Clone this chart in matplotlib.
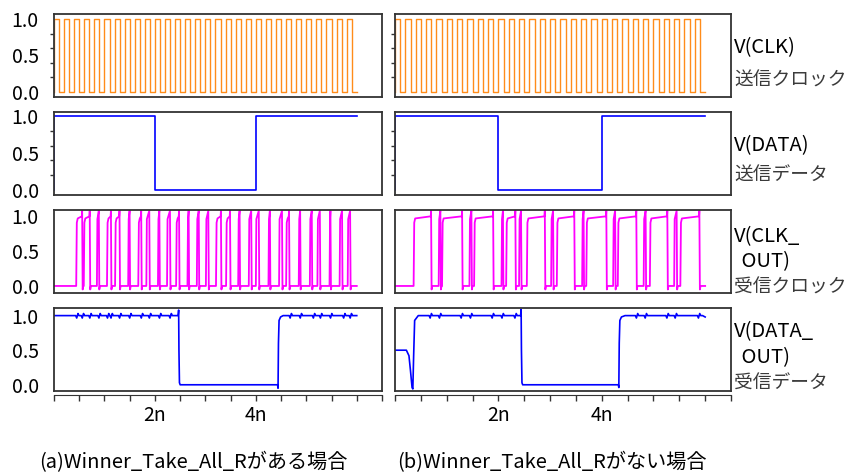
import matplotlib
matplotlib.use("Agg")
import matplotlib.pyplot as plt

plt.rcParams['font.family'] = ['Noto Sans CJK JP', 'DejaVu Sans']

# time axis (ns)
t_end = 6.0
x_ticks = [0.0, 0.5, 1.0, 1.5, 2.0, 2.5, 3.0, 3.5, 4.0, 4.5, 5.0, 5.5, 6.0, 6.5]
x_labels = ['', '', '', '', '2n', '', '', '', '4n', '', '', '', '', '']

# transmit clock: rising edges, high time
clk_rise = [0.0, 0.2, 0.4, 0.6, 0.8, 1.0, 1.2, 1.4, 1.6, 1.8,
            2.0, 2.2, 2.4, 2.6, 2.8, 3.0, 3.2, 3.4, 3.6, 3.8,
            4.0, 4.2, 4.4, 4.6, 4.8, 5.0, 5.2, 5.4, 5.6, 5.8]
clk_high = 0.1

# transmit data
data_edges = [0.0, 2.0, 4.0, 6.0]
data_levels = [1.0, 0.0, 1.0]

# received clock pulses, (a) with Winner_Take_All_R
clkout_a_rise = [0.44, 0.59, 0.85, 1.05, 1.21, 1.47, 1.67, 1.83, 2.06, 2.24,
                 2.42, 2.645, 2.83, 3.01, 3.21, 3.41, 3.65, 3.86, 4.00, 4.25,
                 4.46, 4.60, 4.85, 5.07, 5.22, 5.46, 5.66, 5.82]
clkout_a_fall = [0.56, 0.71, 0.89, 1.13, 1.30, 1.50, 1.73, 1.89, 2.09, 2.30,
                 2.48, 2.67, 2.87, 3.06, 3.31, 3.49, 3.68, 3.91, 4.06, 4.28,
                 4.52, 4.66, 4.88, 5.11, 5.27, 5.48, 5.71, 5.87]

# received clock pulses, (b) without Winner_Take_All_R
clkout_b_rise = [0.36, 0.845, 0.91, 1.44, 1.53, 2.06, 2.15, 2.40, 2.55, 3.02,
                 3.13, 3.62, 3.70, 4.22, 4.31, 4.81, 4.93, 5.40, 5.52]
clkout_b_fall = [0.70, 0.88, 1.30, 1.48, 1.90, 2.09, 2.33, 2.44, 2.90, 3.06,
                 3.47, 3.65, 4.09, 4.26, 4.67, 4.85, 5.27, 5.45, 5.89]

# received data outlines and ripple positions
dout_a_t = [0.0, 2.46, 2.47, 2.476, 2.486, 2.50, 4.43, 4.44, 4.448, 4.46, 4.49, 4.54, 6.0]
dout_a_v = [1.0, 1.0, 1.08, 0.5, 0.03, 0.0, 0.0, -0.05, 0.6, 0.93, 0.98, 1.0, 1.0]
dout_a_ripple = [0.45, 0.56, 0.71, 0.89, 1.06, 1.13, 1.30, 1.50, 1.73, 1.89,
                 2.09, 2.30, 4.68, 4.88, 5.14, 5.28, 5.48, 5.74, 5.87]

dout_b_t = [0.0, 0.22, 0.27, 0.30, 0.33, 0.345, 0.36, 0.38, 0.45,
            2.43, 2.44, 2.446, 2.456, 2.47, 4.32, 4.33, 4.338, 4.35, 4.38, 4.45, 5.95, 6.0]
dout_b_v = [0.5, 0.5, 0.42, 0.2, -0.04, -0.06, 0.4, 0.93, 1.0,
            1.0, 1.09, 0.5, 0.03, 0.0, 0.0, -0.04, 0.6, 0.93, 0.98, 1.0, 1.0, 0.98]
dout_b_ripple = [0.68, 0.86, 1.28, 1.46, 1.88, 2.07, 2.32,
                 4.67, 4.84, 5.26, 5.42, 5.87]


def clock_wave(rises, high, end):
    t, v = [0.0], [0.0]
    for r in rises:
        t += [r, r, r + high, r + high]
        v += [0.0, 1.0, 1.0, 0.0]
    t.append(end)
    v.append(0.0)
    return t, v


def data_wave(edges, levels):
    t, v = [edges[0]], [0.0]
    for i, lvl in enumerate(levels):
        t += [edges[i], edges[i + 1]]
        v += [lvl, lvl]
    return t, v


def pulse_wave(rises, falls, end):
    t, v = [0.0], [0.0]
    for r, f in zip(rises, falls):
        if f - r > 0.06:
            t += [r, r + 0.012, r + 0.03, f - 0.008]
            v += [0.0, 0.9, 0.96, 0.99]
        else:
            t += [r, r + 0.01]
            v += [0.0, 0.95]
        t += [f - 0.002, f + 0.008, f + 0.02]
        v += [1.07, -0.05, 0.0]
    t.append(end)
    v.append(0.0)
    return t, v


def with_ripples(t, v, ripples):
    pts = list(zip(t, v))
    for r in ripples:
        pts += [(r - 0.02, 1.0), (r, 0.965), (r + 0.025, 1.03), (r + 0.045, 1.0)]
    pts.sort(key=lambda p: p[0])
    return [p[0] for p in pts], [p[1] for p in pts]


waves = [
    [clock_wave(clk_rise, clk_high, t_end), clock_wave(clk_rise, clk_high, t_end)],
    [data_wave(data_edges, data_levels), data_wave(data_edges, data_levels)],
    [pulse_wave(clkout_a_rise, clkout_a_fall, t_end),
     pulse_wave(clkout_b_rise, clkout_b_fall, t_end)],
    [with_ripples(dout_a_t, dout_a_v, dout_a_ripple),
     with_ripples(dout_b_t, dout_b_v, dout_b_ripple)],
]
colors = ['#ff8c1a', '#0000ff', '#ff00ff', '#0000ff']
widths = [1.0, 1.2, 1.3, 1.2]
ylims = [(-0.073, 1.069), (-0.067, 1.053), (-0.10, 1.08), (-0.09, 1.11)]
minor_ticks = [[0, 0.2, 0.4, 0.6, 0.8, 1.0], [0, 0.2, 0.4, 0.6, 0.8, 1.0],
               [0, 0.5, 1.0], [0, 0.5, 1.0]]

W, H = 848, 474
col_x = [54, 395]
col_w = [328, 336]
row_top = [14, 112, 210, 308]
row_h = 83
frame = '#333333'

fig = plt.figure(figsize=(W / 100, H / 100), dpi=100)

for i in range(4):
    for j in range(2):
        ax = fig.add_axes([col_x[j] / W, 1 - (row_top[i] + row_h) / H,
                           col_w[j] / W, row_h / H])
        t, v = waves[i][j]
        ax.plot(t, v, color=colors[i], lw=widths[i])
        ax.set_xlim(0, 6.5)
        ax.set_ylim(*ylims[i])
        for s in ax.spines.values():
            s.set_color(frame)
            s.set_linewidth(1.3)
        ax.tick_params(axis='x', bottom=False, labelbottom=False)
        ax.set_yticks([0.0, 0.5, 1.0], ['0.0', '0.5', '1.0'])
        ax.set_yticks(minor_ticks[i], minor=True)
        ax.tick_params(axis='y', which='major', length=0, pad=11,
                       labelsize=14, labelleft=(j == 0))
        ax.tick_params(axis='y', which='minor', length=3, width=1.0,
                       color=frame)
        if i == 3:
            sec = ax.secondary_xaxis('bottom')
            sec.spines['bottom'].set_position(('outward', 3))
            sec.spines['bottom'].set_color(frame)
            sec.set_xticks(x_ticks, x_labels)
            sec.tick_params(length=4, width=1.0, color=frame, pad=3,
                            labelsize=14)

# signal names at right
side_labels = [
    ('V(CLK)', 734, 48), ('送信クロック', 734, 80),
    ('V(DATA)', 734, 146), ('送信データ', 734, 175),
    ('V(CLK_', 734, 237), (' OUT)', 737, 262), ('受信クロック', 734, 287),
    ('V(DATA_', 734, 332), (' OUT)', 737, 358), ('受信データ', 734, 383),
]
for txt, x, y in side_labels:
    latin = txt.strip().startswith(('V', 'O'))
    fig.text(x / W, 1 - y / H, txt, ha='left', va='center',
             fontsize=14.5 if latin else 13.5,
             color='black' if latin else '#3a3a3a')

fig.text(193 / W, 1 - 463 / H, '(a)Winner_Take_All_Rがある場合',
         ha='center', va='center', fontsize=14.5)
fig.text(552 / W, 1 - 463 / H, '(b)Winner_Take_All_Rがない場合',
         ha='center', va='center', fontsize=14.5)

fig.savefig('out.png', dpi=100)
